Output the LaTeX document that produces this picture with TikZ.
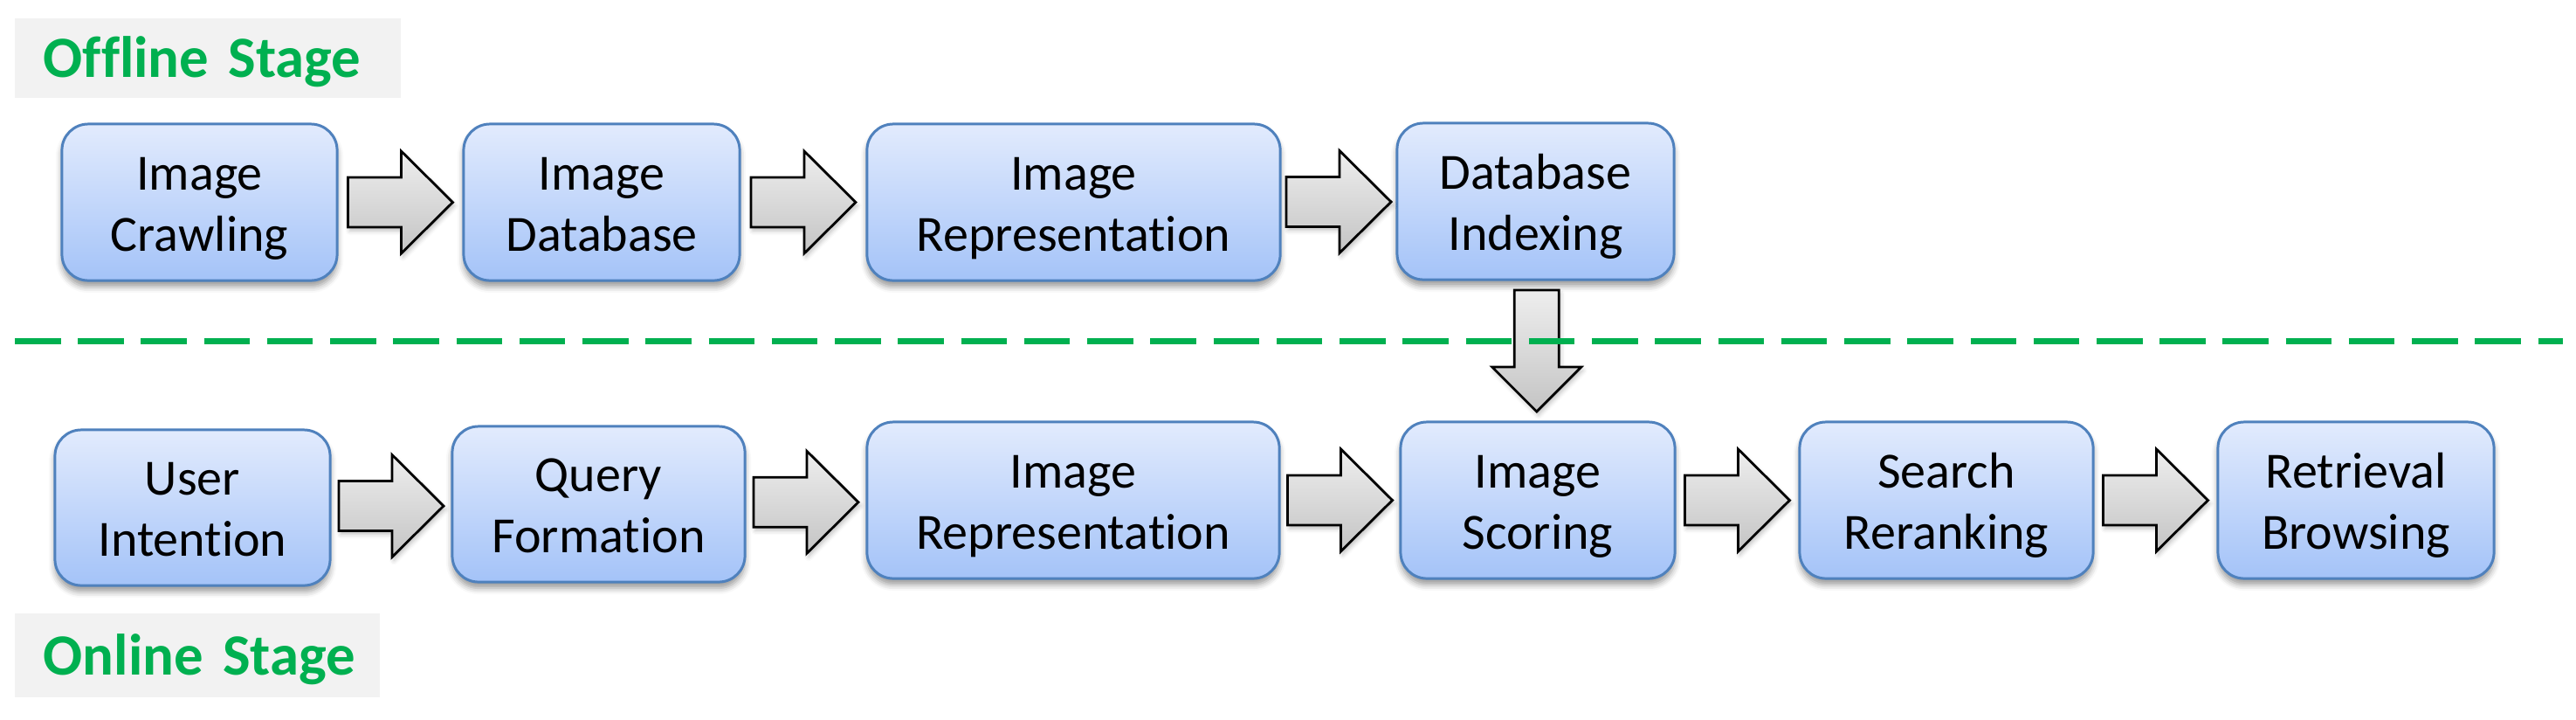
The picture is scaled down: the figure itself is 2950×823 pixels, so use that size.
\documentclass[tikz,border=0pt]{standalone}
\usepackage{fontspec}
\setmainfont{Carlito}[Ligatures=NoCommon]
\usetikzlibrary{calc,shadows.blur}
\definecolor{boxline}{HTML}{4F81BD}
\definecolor{boxtop}{HTML}{E2EBFD}
\definecolor{boxbot}{HTML}{A4C3F8}
\definecolor{arrtop}{HTML}{EEEEEE}
\definecolor{arrbot}{HTML}{C4C4C4}
\definecolor{stagegreen}{HTML}{00B050}
\definecolor{labfill}{HTML}{F2F2F2}
\newcommand{\twoline}[2]{\rule{0pt}{0.57cm}#1\\#2\rule[-0.16cm]{0pt}{0.16cm}}
\newcommand{\harrow}[2]{%
  \begin{scope}[shift={($(#1.east)!0.5!(#2.west)$)}]
    \path[blockarrow] (-60,-28.5) -- (1,-28.5) -- (1,-58.5) -- (60,0) -- (1,58.5) -- (1,28.5) -- (-60,28.5) -- cycle;
  \end{scope}}
\tikzset{
  procbox/.style={rectangle, rounded corners=0.3cm, draw=boxline, line width=0.85pt,
    top color=boxtop, bottom color=boxbot, align=center, inner sep=0pt,
    minimum height=1.79cm, font=\fontsize{16.5pt}{19.9pt}\selectfont,
    blur shadow={shadow xshift=0pt, shadow yshift=-0.07cm, shadow blur radius=0.07cm, shadow opacity=40}},
  blockarrow/.style={draw=black, line width=0.8pt, line join=miter, top color=arrtop, bottom color=arrbot,
    blur shadow={shadow xshift=0.02cm, shadow yshift=-0.04cm, shadow blur radius=0.05cm, shadow opacity=25}},
  stagelabel/.style={fill=labfill, anchor=north west, align=left, inner sep=0pt,
    text=stagegreen, font=\fontsize{19pt}{22pt}\selectfont\bfseries},
  sepline/.style={draw=stagegreen, line width=0.07cm, dash pattern=on 0.525cm off 0.197cm}
}
\begin{document}
\begin{tikzpicture}[x=0.01cm, y=-0.01cm]
\useasboundingbox (0,0) rectangle (2950,823);
% stage labels
\node[stagelabel, text width=4.42cm, text height=0.68cm, text depth=0.23cm] (offline) at (16,20) {\hspace*{0.33cm}Offline Stage};
\node[stagelabel, text width=4.18cm, text height=0.71cm, text depth=0.25cm] (online) at (16,701) {\hspace*{0.33cm}Online Stage};
% offline row
\node[procbox, minimum width=3.15cm] (crawl) at (228.5,231.5) {\twoline{Image}{Crawling}};
\node[procbox, minimum width=3.16cm] (db) at (689,231.5) {\twoline{Image}{Database}};
\node[procbox, minimum width=4.73cm] (rep) at (1229.5,231.5) {\twoline{Image}{Representation}};
\node[procbox, minimum width=3.17cm] (idx) at (1758.5,230.5) {\twoline{Database}{Indexing}};
% online row
\node[procbox, minimum width=3.15cm, minimum height=1.78cm] (user) at (220.5,581) {\twoline{User}{Intention}};
\node[procbox, minimum width=3.35cm, minimum height=1.78cm] (query) at (685.5,577) {\twoline{Query}{Formation}};
\node[procbox, minimum width=4.72cm] (rep2) at (1229,572.5) {\twoline{Image}{Representation}};
\node[procbox, minimum width=3.14cm] (score) at (1761,572.5) {\twoline{Image}{Scoring}};
\node[procbox, minimum width=3.36cm] (search) at (2229,572.5) {\twoline{Search}{Reranking}};
\node[procbox, minimum width=3.16cm] (retr) at (2698,572.5) {\twoline{Retrieval}{Browsing}};
% block arrows
\harrow{crawl}{db}
\harrow{db}{rep}
\harrow{rep}{idx}
\harrow{user}{query}
\harrow{query}{rep2}
\harrow{rep2}{score}
\harrow{score}{search}
\harrow{search}{retr}
\begin{scope}[shift={($(idx.south)!0.5!(score.north)$)}, rotate=-90]
  \path[blockarrow] (-69.5,-25.5) -- (18.5,-25.5) -- (18.5,-51) -- (69.5,0) -- (18.5,51) -- (18.5,25.5) -- (-69.5,25.5) -- cycle;
\end{scope}
% separator
\coordinate (sepL) at (17,390.5);
\coordinate (sepR) at (2935,390.5);
\draw[sepline] (sepL) -- (sepR);
\end{tikzpicture}
\end{document}
